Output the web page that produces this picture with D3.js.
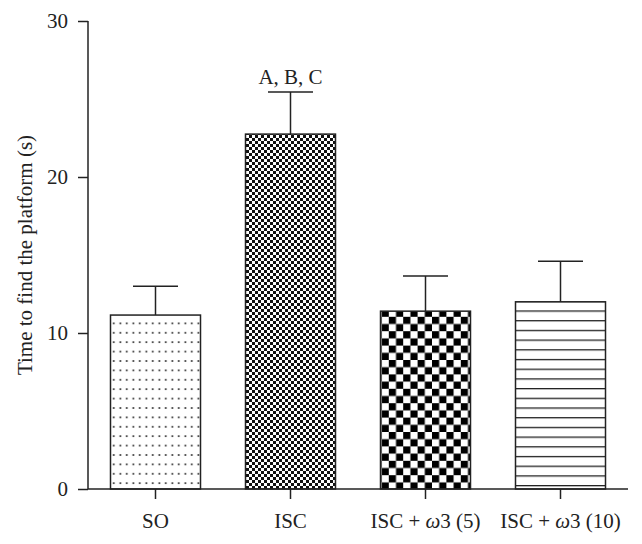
<!DOCTYPE html>
<html>
<head>
<meta charset="utf-8">
<script src="https://cdn.jsdelivr.net/npm/d3@7"></script>
<style>
  body { margin: 0; background: #fff; }
  svg text { font-family: "Liberation Serif", "DejaVu Serif", serif; fill: #222; }
</style>
</head>
<body>
<div id="chart"></div>
<script>
// Data
const groups = ["SO", "ISC", "ISC + \u03c93 (5)", "ISC + \u03c93 (10)"];
const means = [11.15, 22.75, 11.4, 12.0];
const errors = [1.85, 2.7, 2.25, 2.6];
const patterns = ["dots", "fineCheck", "coarseCheck", "hlines"];
const yTicks = [0, 10, 20, 30];
const annotations = ["", "A, B, C", "", ""];

const width = 642,
    height = 544;
const margin = { top: 21, right: 14, bottom: 55, left: 88 };
const fontSize = "21px";

const svg = d3
    .select("#chart")
    .append("svg")
    .attr("width", width)
    .attr("height", height);

// Patterns
const defs = svg.append("defs");

const dots = defs.append("pattern").attr("id", "dots")
    .attr("patternUnits", "userSpaceOnUse").attr("width", 6.5).attr("height", 9.4);
dots.append("rect").attr("width", 6.5).attr("height", 9.4).attr("fill", "#fff");
dots.append("rect").attr("x", 2.5).attr("y", 3).attr("width", 1.6).attr("height", 1.6).attr("fill", "#111");

const fine = defs.append("pattern").attr("id", "fineCheck")
    .attr("patternUnits", "userSpaceOnUse").attr("width", 6).attr("height", 6);
fine.append("rect").attr("width", 6).attr("height", 6).attr("fill", "#fff");
fine.append("rect").attr("width", 3).attr("height", 3).attr("fill", "#111");
fine.append("rect").attr("x", 3).attr("y", 3).attr("width", 3).attr("height", 3).attr("fill", "#111");

const coarse = defs.append("pattern").attr("id", "coarseCheck")
    .attr("patternUnits", "userSpaceOnUse").attr("width", 14.4).attr("height", 14.4);
coarse.append("rect").attr("width", 14.4).attr("height", 14.4).attr("fill", "#fff");
coarse.append("rect").attr("width", 7.2).attr("height", 7.2).attr("fill", "#000");
coarse.append("rect").attr("x", 7.2).attr("y", 7.2).attr("width", 7.2).attr("height", 7.2).attr("fill", "#000");

const hl = defs.append("pattern").attr("id", "hlines")
    .attr("patternUnits", "userSpaceOnUse").attr("width", 10).attr("height", 9.7);
hl.append("rect").attr("width", 10).attr("height", 9.7).attr("fill", "#fff");
hl.append("rect").attr("y", 0).attr("width", 10).attr("height", 1.3).attr("fill", "#222");

// Scales
const x = d3
    .scaleBand()
    .domain(groups)
    .range([margin.left, width - margin.right])
    .paddingInner(1 / 3)
    .paddingOuter(1 / 6);

const y = d3
    .scaleLinear()
    .domain([0, 30])
    .range([height - margin.bottom, margin.top]);

const g = svg.append("g");

// Error bars (drawn first so the bar covers the lower half)
const cap = x.bandwidth() / 2;
groups.forEach((grp, i) => {
    const cx = x(grp) + x.bandwidth() / 2;
    g.append("line")
        .attr("x1", cx).attr("x2", cx)
        .attr("y1", y(means[i])).attr("y2", y(means[i] + errors[i]))
        .attr("stroke", "#222").attr("stroke-width", 1.5);
    g.append("line")
        .attr("x1", cx - cap / 2).attr("x2", cx + cap / 2)
        .attr("y1", y(means[i] + errors[i])).attr("y2", y(means[i] + errors[i]))
        .attr("stroke", "#222").attr("stroke-width", 1.5);
});

// Bars
g.selectAll("rect.bar")
    .data(groups)
    .enter()
    .append("rect")
    .attr("class", "bar")
    .attr("x", (d) => x(d))
    .attr("y", (d, i) => y(means[i]))
    .attr("width", x.bandwidth())
    .attr("height", (d, i) => y(0) - y(means[i]))
    .attr("fill", (d, i) => `url(#${patterns[i]})`)
    .attr("stroke", "#222")
    .attr("stroke-width", 1.5);

// Annotation
g.selectAll("text.ann")
    .data(groups)
    .enter()
    .append("text")
    .attr("class", "ann")
    .attr("x", (d) => x(d) + x.bandwidth() / 2)
    .attr("y", (d, i) => y(means[i] + errors[i]) - 8)
    .attr("text-anchor", "middle")
    .style("font-size", fontSize)
    .text((d, i) => annotations[i]);

// Y axis
const yAxis = svg
    .append("g")
    .attr("transform", `translate(${margin.left},0)`)
    .call(d3.axisLeft(y).tickValues(yTicks).tickSize(10).tickPadding(10));

// X axis
const xAxis = svg
    .append("g")
    .attr("transform", `translate(0,${y(0)})`)
    .call(d3.axisBottom(x).tickSize(10).tickPadding(14));

[yAxis, xAxis].forEach((ax) => {
    ax.select(".domain").attr("stroke", "#222").attr("stroke-width", 1.5);
    ax.selectAll(".tick line").attr("stroke", "#222").attr("stroke-width", 1.5);
    ax.selectAll(".tick text").style("font-size", fontSize).attr("fill", "#222")
        .style("font-family", "'Liberation Serif', 'DejaVu Serif', serif");
});
xAxis.select(".domain").attr("d", `M${margin.left},0H${width - margin.right}`);
yAxis.select(".domain").attr("d", `M0,${y(30)}V${y(0)}`);

// italic omega in the group labels
xAxis.selectAll(".tick text").each(function (d) {
    const t = d3.select(this);
    const parts = d.split("\u03c9");
    if (parts.length < 2) return;
    t.text(null);
    t.append("tspan").text(parts[0]);
    t.append("tspan").style("font-style", "italic").text("\u03c9");
    t.append("tspan").text(parts[1]);
});

// Y label
svg.append("text")
    .attr("transform", `translate(32,${(y(0) + y(30)) / 2}) rotate(-90)`)
    .attr("text-anchor", "middle")
    .style("font-size", fontSize)
    .text("Time to find the platform (s)");
</script>
</body>
</html>
